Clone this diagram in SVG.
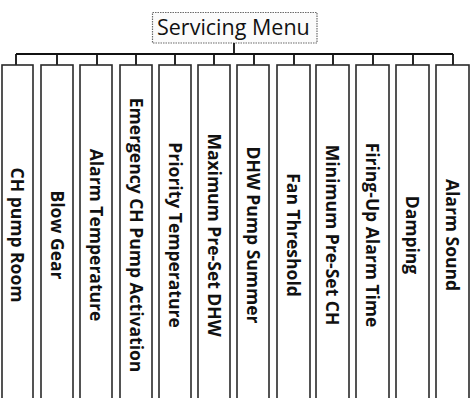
<svg xmlns="http://www.w3.org/2000/svg" width="473" height="398" viewBox="0 0 473 398">
<style>
.bg{fill:#ffffff}
.title{fill:#fbfbfb;stroke:#6a6a6a;stroke-width:1.2;stroke-dasharray:1.5 1}
.tt{font-family:"Open Sans","Liberation Sans",sans-serif;font-size:21.5px;fill:#111}
.box{fill:#ffffff;stroke:#2a2a2a;stroke-width:1.6}
.lbl{font-family:"Open Sans","Liberation Sans",sans-serif;font-weight:bold;font-size:17.5px;fill:#111;text-anchor:middle}
.wire{fill:none;stroke:#111;stroke-width:1.8}
</style>
<rect class="bg" x="0" y="0" width="473" height="398"/>
<g id="servicing-menu">
<rect class="title" x="152.5" y="12.5" width="164.5" height="30.5"/>
<text class="tt" x="157" y="35">Servicing Menu</text>
</g>
<g id="connectors">
<path class="wire" d="M234,43V54M16,54H453M16,54V65M57,54V65M97,54V65M136,54V65M175,54V65M214,54V65M254,54V65M294,54V65M333,54V65M373,54V65M413,54V65M453,54V65"/>
</g>
<g id="n1"><rect class="box" x="2" y="65" width="31" height="340"/><text class="lbl" transform="translate(17.5,235) rotate(90)" y="6.3">CH pump Room</text></g>
<g id="n2"><rect class="box" x="41" y="65" width="32" height="340"/><text class="lbl" transform="translate(57,235) rotate(90)" y="6.3">Blow Gear</text></g>
<g id="n3"><rect class="box" x="80" y="65" width="32" height="340"/><text class="lbl" transform="translate(96,235) rotate(90)" y="6.3">Alarm Temperature</text></g>
<g id="n4"><rect class="box" x="120" y="65" width="32" height="340"/><text class="lbl" transform="translate(136,235) rotate(90)" y="6.3">Emergency CH Pump Activation</text></g>
<g id="n5"><rect class="box" x="159" y="65" width="32" height="340"/><text class="lbl" transform="translate(175,235) rotate(90)" y="6.3">Priority Temperature</text></g>
<g id="n6"><rect class="box" x="198" y="65" width="32" height="340"/><text class="lbl" transform="translate(214,235) rotate(90)" y="6.3">Maximum Pre-Set DHW</text></g>
<g id="n7"><rect class="box" x="237" y="65" width="32" height="340"/><text class="lbl" transform="translate(253,235) rotate(90)" y="6.3">DHW Pump Summer</text></g>
<g id="n8"><rect class="box" x="277" y="65" width="33" height="340"/><text class="lbl" transform="translate(293.5,235) rotate(90)" y="6.3">Fan Threshold</text></g>
<g id="n9"><rect class="box" x="316" y="65" width="33" height="340"/><text class="lbl" transform="translate(332.5,235) rotate(90)" y="6.3">Minimum Pre-Set CH</text></g>
<g id="n10"><rect class="box" x="356" y="65" width="33" height="340"/><text class="lbl" transform="translate(372.5,235) rotate(90)" y="6.3">Firing-Up Alarm Time</text></g>
<g id="n11"><rect class="box" x="396" y="65" width="33" height="340"/><text class="lbl" transform="translate(412.5,235) rotate(90)" y="6.3">Damping</text></g>
<g id="n12"><rect class="box" x="436" y="65" width="33" height="340"/><text class="lbl" transform="translate(452.5,235) rotate(90)" y="6.3">Alarm Sound</text></g>
</svg>
